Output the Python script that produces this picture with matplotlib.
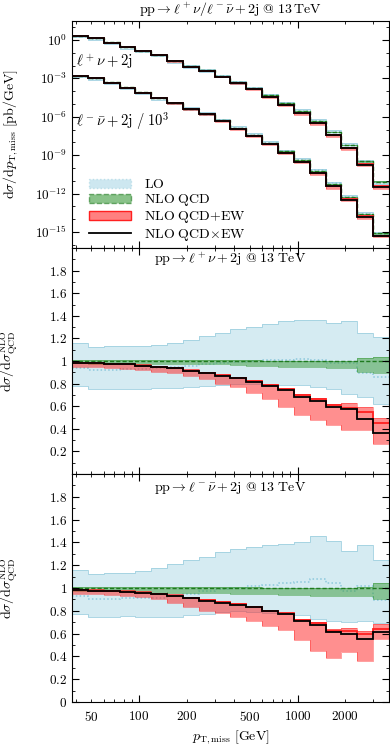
import matplotlib
matplotlib.use('Agg')
import matplotlib.pyplot as plt
import numpy as np
from matplotlib.patches import Patch
from matplotlib.lines import Line2D
from matplotlib.ticker import FixedLocator, FuncFormatter, NullFormatter

plt.rcParams['mathtext.fontset'] = 'cm'
plt.rcParams['font.family'] = 'serif'
plt.rcParams['font.serif'] = ['DejaVu Serif']
plt.rcParams['axes.linewidth'] = 0.8

# bin edges in pT,miss [GeV]
edges = [37.8, 47.5, 59.9, 75.4, 94.9, 119.5, 150.4, 189.3, 238.3, 300.0, 377.7,
         475.5, 598.6, 753.6, 948.7, 1194.3, 1503.6, 1892.9, 2383.0, 3000.0, 3776.8]

# NLO QCD central values [pb/GeV]
wp_qcd = [2.2, 1.39, 0.63, 0.277, 0.142, 0.068, 0.0225, 0.0090, 0.0042, 0.00157,
          4.8e-4, 1.7e-4, 4.7e-5, 1.12e-5, 2.8e-6, 4.8e-7, 6.4e-8, 6.1e-9, 3.4e-10, 8.5e-12]
wm_qcd = [1.64, 1.05, 0.474, 0.197, 0.0796, 0.0296, 0.0121, 0.00429, 0.00178, 5.4e-4,
          1.32e-4, 3.86e-5, 9.4e-6, 1.95e-6, 4.15e-7, 6.1e-8, 5.9e-9, 5.7e-10, 2.7e-11, 8.0e-13]
wm_scale = 1e-3

# ratios to NLO QCD, l+ nu + 2j
wp_lo_c = [0.94, 0.92, 0.92, 0.93, 0.93, 0.94, 0.95, 0.96, 0.97, 0.98,
           0.99, 1.00, 1.01, 1.01, 1.02, 1.01, 0.98, 0.98, 0.89, 0.855]
wp_lo_lo = [0.78, 0.75, 0.755, 0.75, 0.755, 0.76, 0.765, 0.77, 0.78, 0.79,
            0.80, 0.80, 0.79, 0.79, 0.79, 0.77, 0.75, 0.71, 0.68, 0.62]
wp_lo_hi = [1.16, 1.12, 1.13, 1.13, 1.13, 1.14, 1.16, 1.19, 1.22, 1.25,
            1.28, 1.30, 1.33, 1.355, 1.365, 1.36, 1.335, 1.355, 1.25, 1.21]
wp_qcd_lo = [0.98, 0.975, 0.975, 0.975, 0.975, 0.975, 0.975, 0.97, 0.97, 0.97,
             0.965, 0.96, 0.955, 0.95, 0.945, 0.945, 0.94, 0.94, 0.905, 0.89]
wp_qcd_hi = [1.01, 1.005, 1.005, 1.005, 1.005, 1.005, 1.005, 1.005, 1.005, 1.005,
             1.005, 1.005, 1.0, 1.0, 1.0, 1.0, 1.0, 1.0, 1.024, 1.038]
wp_ew_c = [0.985, 0.98, 0.975, 0.97, 0.96, 0.95, 0.935, 0.915, 0.895, 0.872,
           0.85, 0.822, 0.79, 0.75, 0.695, 0.66, 0.61, 0.585, 0.552, 0.454]
wp_ew_lo = [0.95, 0.945, 0.94, 0.93, 0.92, 0.905, 0.89, 0.87, 0.84, 0.80,
            0.767, 0.714, 0.661, 0.596, 0.522, 0.478, 0.434, 0.389, 0.389, 0.265]
wp_ew_hi = [0.995, 0.99, 0.985, 0.98, 0.97, 0.96, 0.945, 0.925, 0.905, 0.88,
            0.86, 0.83, 0.80, 0.76, 0.705, 0.67, 0.62, 0.625, 0.59, 0.50]
wp_mult = [0.985, 0.98, 0.975, 0.97, 0.96, 0.95, 0.935, 0.912, 0.891, 0.868,
           0.847, 0.817, 0.782, 0.743, 0.684, 0.649, 0.596, 0.572, 0.487, 0.36]

# ratios to NLO QCD, l- nubar + 2j
wm_lo_c = [0.93, 0.90, 0.905, 0.91, 0.91, 0.91, 0.93, 0.95, 0.97, 0.99,
           1.0, 1.02, 1.03, 1.04, 1.05, 1.08, 1.04, 0.97, 1.015, 0.895]
wm_lo_lo = [0.77, 0.745, 0.75, 0.755, 0.745, 0.745, 0.75, 0.76, 0.77, 0.79,
            0.80, 0.79, 0.78, 0.77, 0.76, 0.73, 0.71, 0.70, 0.71, 0.69]
wm_lo_hi = [1.16, 1.12, 1.13, 1.135, 1.15, 1.175, 1.21, 1.245, 1.27, 1.32,
            1.345, 1.36, 1.375, 1.39, 1.40, 1.457, 1.41, 1.325, 1.375, 1.248]
wm_qcd_lo = [0.975, 0.97, 0.97, 0.97, 0.965, 0.965, 0.96, 0.96, 0.955, 0.955,
             0.95, 0.95, 0.945, 0.94, 0.94, 0.93, 0.93, 0.93, 0.926, 0.903]
wm_qcd_hi = [1.01, 1.005, 1.005, 1.005, 1.005, 1.005, 1.005, 1.005, 1.005, 1.005,
             1.005, 1.005, 1.0, 1.0, 1.0, 1.0, 1.0, 1.0, 1.01, 1.04]
wm_ew_c = [0.985, 0.978, 0.972, 0.967, 0.958, 0.948, 0.934, 0.915, 0.895, 0.875,
           0.856, 0.836, 0.802, 0.778, 0.72, 0.69, 0.625, 0.62, 0.60, 0.64]
wm_ew_lo = [0.95, 0.945, 0.94, 0.93, 0.92, 0.905, 0.87, 0.83, 0.80, 0.78,
            0.75, 0.71, 0.67, 0.63, 0.54, 0.45, 0.39, 0.44, 0.36, 0.55]
wm_ew_hi = [0.995, 0.99, 0.985, 0.98, 0.97, 0.96, 0.945, 0.925, 0.905, 0.885,
            0.865, 0.845, 0.81, 0.785, 0.725, 0.70, 0.64, 0.65, 0.62, 0.68]
wm_mult = [0.985, 0.975, 0.97, 0.965, 0.955, 0.945, 0.93, 0.91, 0.89, 0.87,
           0.85, 0.83, 0.795, 0.77, 0.71, 0.675, 0.61, 0.60, 0.555, 0.615]

C_LO = '#add8e6'
C_LO_E = '#9fd0e0'
C_QCD = '#3a9a3a'
C_QCD_E = '#1f7a1f'
C_EW = '#ff2020'


def draw_set(ax, norm, lo_c, lo_lo, lo_hi, q_lo, q_hi, ew_c, ew_lo, ew_hi, mult):
    n = np.asarray(norm)
    a = lambda r: np.asarray(r) * n
    ax.stairs(a(lo_hi), edges, baseline=a(lo_lo), fill=True, color=C_LO, alpha=0.5, lw=0)
    ax.stairs(a(lo_hi), edges, baseline=None, color=C_LO_E, lw=0.6)
    ax.stairs(a(lo_lo), edges, baseline=None, color=C_LO_E, lw=0.6)
    ax.stairs(a(lo_c), edges, baseline=None, color='#8cc8dc', lw=1.1, ls=(0, (1, 1.5)))
    ax.stairs(a(q_hi), edges, baseline=a(q_lo), fill=True, color=C_QCD, alpha=0.5, lw=0)
    ax.stairs(a(q_hi), edges, baseline=None, color=C_QCD, lw=0.5, alpha=0.7)
    ax.stairs(a(q_lo), edges, baseline=None, color=C_QCD, lw=0.5, alpha=0.7)
    ax.stairs(n, edges, baseline=None, color=C_QCD_E, lw=1.0, ls=(0, (3, 1.5)))
    ax.stairs(a(ew_hi), edges, baseline=a(ew_lo), fill=True, color=C_EW, alpha=0.5, lw=0)
    ax.stairs(a(ew_hi), edges, baseline=None, color=C_EW, lw=0.5, alpha=0.6)
    ax.stairs(a(ew_lo), edges, baseline=None, color=C_EW, lw=0.5, alpha=0.6)
    ax.stairs(a(ew_c), edges, baseline=None, color=C_EW, lw=1.3)
    ax.stairs(a(mult), edges, baseline=None, color='black', lw=1.3)


fig = plt.figure(figsize=(3.9, 7.46), dpi=100)
L, W = 72 / 390, 317 / 390
ax1 = fig.add_axes([L, 1 - 248 / 746, W, 227 / 746])
ax2 = fig.add_axes([L, 1 - 474 / 746, W, 226 / 746])
ax3 = fig.add_axes([L, 1 - 702 / 746, W, 228 / 746])

fs = 9.5

# top panel
draw_set(ax1, wp_qcd, wp_lo_c, wp_lo_lo, wp_lo_hi, wp_qcd_lo, wp_qcd_hi,
         wp_ew_c, wp_ew_lo, wp_ew_hi, wp_mult)
draw_set(ax1, np.asarray(wm_qcd) * wm_scale, wm_lo_c, wm_lo_lo, wm_lo_hi, wm_qcd_lo, wm_qcd_hi,
         wm_ew_c, wm_ew_lo, wm_ew_hi, wm_mult)
ax1.set_yscale('log')
ax1.set_ylim(5.6e-17, 30)
ax1.yaxis.set_major_locator(FixedLocator([10.0 ** k for k in range(-15, 3, 3)]))
ax1.yaxis.set_major_formatter(FuncFormatter(lambda v, p: r'$10^{%d}$' % round(np.log10(v))))
ax1.yaxis.set_minor_locator(FixedLocator([10.0 ** k for k in range(-16, 2)]))
ax1.yaxis.set_minor_formatter(NullFormatter())
ax1.set_ylabel(r'$\mathrm{d}\sigma/\mathrm{d}p_{\mathrm{T,miss}}\ [\mathrm{pb/GeV}]$', fontsize=fs + 0.5)
ax1.set_title(r'$\mathrm{pp}\to\ell^+\nu/\ell^-\bar{\nu}+2\mathrm{j}\ @\ 13\,\mathrm{TeV}$', fontsize=fs + 0.5, pad=6)
ax1.text(0.012, 0.82, r'$\ell^+\nu+2\mathrm{j}$', transform=ax1.transAxes, fontsize=fs + 1, va='center')
ax1.text(0.012, 0.56, r'$\ell^-\bar{\nu}+2\mathrm{j}\ /\ 10^3$', transform=ax1.transAxes, fontsize=fs + 1, va='center')

handles = [Patch(facecolor=C_LO, alpha=0.6, edgecolor=C_LO_E, ls=':', lw=1.0),
           Patch(facecolor=C_QCD, alpha=0.6, edgecolor=C_QCD_E, ls='--', lw=1.0),
           Patch(facecolor='#ff8080', edgecolor=C_EW, lw=1.0),
           Line2D([], [], color='black', lw=1.3)]
labels = [r'$\mathrm{LO}$', r'$\mathrm{NLO\ QCD}$', r'$\mathrm{NLO\ QCD{+}EW}$', r'$\mathrm{NLO\ QCD{\times}EW}$']
ax1.legend(handles, labels, loc='lower left', bbox_to_anchor=(0.02, -0.025), frameon=False,
           fontsize=fs + 0.5, handlelength=3.0, handletextpad=0.9, labelspacing=0.08, borderpad=0.3)

# ratio panels
draw_set(ax2, np.ones(20), wp_lo_c, wp_lo_lo, wp_lo_hi, wp_qcd_lo, wp_qcd_hi,
         wp_ew_c, wp_ew_lo, wp_ew_hi, wp_mult)
draw_set(ax3, np.ones(20), wm_lo_c, wm_lo_lo, wm_lo_hi, wm_qcd_lo, wm_qcd_hi,
         wm_ew_c, wm_ew_lo, wm_ew_hi, wm_mult)
ax2.text(0.5, 0.95, r'$\mathrm{pp}\to\ell^+\nu+2\mathrm{j}\ @\ 13\ \mathrm{TeV}$', transform=ax2.transAxes,
         ha='center', va='center', fontsize=fs + 0.5)
ax3.text(0.5, 0.94, r'$\mathrm{pp}\to\ell^-\bar{\nu}+2\mathrm{j}\ @\ 13\ \mathrm{TeV}$', transform=ax3.transAxes,
         ha='center', va='center', fontsize=fs + 0.5)

yt = [0.2, 0.4, 0.6, 0.8, 1.0, 1.2, 1.4, 1.6, 1.8]
ytl = ['0.2', '0.4', '0.6', '0.8', '1', '1.2', '1.4', '1.6', '1.8']
for ax, ticks, tl in [(ax2, yt, ytl), (ax3, [0.0] + yt, ['0'] + ytl)]:
    ax.set_ylim(0, 2)
    ax.set_yticks(ticks)
    ax.set_yticklabels([r'$%s$' % t for t in tl])
    ax.yaxis.set_minor_locator(FixedLocator([0.1 * k for k in range(21)]))
    ax.set_ylabel(r'$\mathrm{d}\sigma/\mathrm{d}\sigma^{\mathrm{NLO}}_{\mathrm{QCD}}$', fontsize=fs + 0.5)

xlab = {50: '50', 200: '200', 500: '500', 2000: '2000'}
for ax in (ax1, ax2, ax3):
    ax.set_xscale('log')
    ax.set_xlim(edges[0], edges[-1])
    ax.xaxis.set_major_locator(FixedLocator([100, 1000]))
    ax.xaxis.set_minor_locator(FixedLocator([m * 10 ** d for d in (1, 2, 3) for m in range(2, 10)]))
    ax.tick_params(which='both', direction='in', top=True, right=True, labelsize=fs)
    ax.tick_params(which='major', length=5, width=0.8)
    ax.tick_params(which='minor', length=2.5, width=0.6)
    if ax is ax3:
        ax.xaxis.set_major_formatter(FuncFormatter(lambda v, p: r'$%d$' % v))
        ax.xaxis.set_minor_formatter(FuncFormatter(lambda v, p: r'$%s$' % xlab[int(round(v))] if int(round(v)) in xlab else ''))
        ax.tick_params(axis='x', which='both', pad=6)
    else:
        ax.xaxis.set_major_formatter(NullFormatter())
        ax.xaxis.set_minor_formatter(NullFormatter())

ax3.set_xlabel(r'$p_{\mathrm{T,miss}}\ [\mathrm{GeV}]$', fontsize=fs + 0.5, labelpad=3)
for ax in (ax1, ax2, ax3):
    ax.yaxis.set_label_coords(-0.165, 0.5)

fig.savefig('out.png', dpi=100)
